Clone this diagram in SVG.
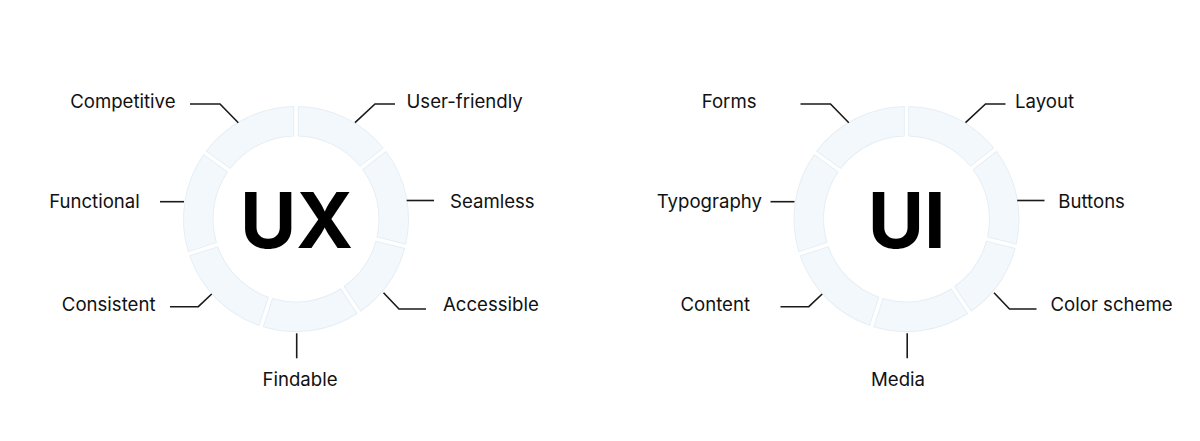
<svg xmlns="http://www.w3.org/2000/svg" width="1200" height="441" viewBox="0 0 1200 441">
<style>
.bg{fill:#ffffff}
.seg{fill:#F3F8FC;stroke:#E6EEF4;stroke-width:1}
.lbl{font-family:Inter,"Noto Sans","Liberation Sans",sans-serif;font-size:18.6px;fill:#111111}
.mid{text-anchor:middle}
.end{text-anchor:end}
.core{font-family:Inter,"Noto Sans","Liberation Sans",sans-serif;font-weight:700;font-size:77px;fill:#000000;text-anchor:middle}
.conn{fill:none;stroke:#1a1a1a;stroke-width:1.6}
</style>
<defs>
<path id="s52" class="seg" d="M2.25,-112.48 A112.5,112.5 0 0 1 87.25,-71.02 L64.00,-52.85 A83,83 0 0 0 2.25,-82.97 Z"/>
<path id="s42" class="seg" d="M2.25,-112.48 A112.5,112.5 0 0 1 73.59,-85.09 L53.85,-63.16 A83,83 0 0 0 2.25,-82.97 Z"/>
<path id="s54" class="seg" d="M2.25,-112.48 A112.5,112.5 0 0 1 89.67,-67.93 L65.80,-50.59 A83,83 0 0 0 2.25,-82.97 Z"/>
</defs>
<rect class="bg" x="0" y="0" width="1200" height="441"/>

<!-- UX -->
<g id="ux-user-friendly"><use href="#s52" transform="translate(296,219) rotate(0)"/><text class="lbl" x="406.5" y="108.3">User-friendly</text></g>
<g id="ux-seamless"><use href="#s52" transform="translate(296,219) rotate(52)"/><text class="lbl" x="450" y="208.3">Seamless</text></g>
<g id="ux-accessible"><use href="#s42" transform="translate(296,219) rotate(104)"/><text class="lbl" x="443" y="310.7">Accessible</text></g>
<g id="ux-findable"><use href="#s52" transform="translate(296,219) rotate(146)"/><text class="lbl mid" x="300" y="385.7">Findable</text></g>
<g id="ux-consistent"><use href="#s54" transform="translate(296,219) rotate(198)"/><text class="lbl end" x="155.5" y="310.7">Consistent</text></g>
<g id="ux-functional"><use href="#s54" transform="translate(296,219) rotate(252)"/><text class="lbl end" x="139.8" y="208.3">Functional</text></g>
<g id="ux-competitive"><use href="#s54" transform="translate(296,219) rotate(306)"/><text class="lbl end" x="175.5" y="108.3">Competitive</text></g>
<g id="ux-core"><text class="core" x="296.5" y="248.3">UX</text></g>

<!-- UI -->
<g id="ui-layout"><use href="#s52" transform="translate(906.5,219) rotate(0)"/><text class="lbl" x="1015" y="108.3">Layout</text></g>
<g id="ui-buttons"><use href="#s52" transform="translate(906.5,219) rotate(52)"/><text class="lbl" x="1058.3" y="208.3">Buttons</text></g>
<g id="ui-color-scheme"><use href="#s42" transform="translate(906.5,219) rotate(104)"/><text class="lbl" x="1050.5" y="310.7">Color scheme</text></g>
<g id="ui-media"><use href="#s52" transform="translate(906.5,219) rotate(146)"/><text class="lbl mid" x="898" y="385.7">Media</text></g>
<g id="ui-content"><use href="#s54" transform="translate(906.5,219) rotate(198)"/><text class="lbl end" x="750" y="310.7">Content</text></g>
<g id="ui-typography"><use href="#s54" transform="translate(906.5,219) rotate(252)"/><text class="lbl end" x="762" y="208.3">Typography</text></g>
<g id="ui-forms"><use href="#s54" transform="translate(906.5,219) rotate(306)"/><text class="lbl end" x="756.5" y="108.3">Forms</text></g>
<g id="ui-core"><text class="core" x="906.7" y="248.3">UI</text></g>

<g id="connectors">
<path class="conn" d="M190,104 H220 L238.3,122.7"/>
<path class="conn" d="M395,104 H375 L355,122.7"/>
<path class="conn" d="M160,201.7 H184"/>
<path class="conn" d="M406.7,200.5 H434"/>
<path class="conn" d="M170,306.7 H198.3 L211.7,294"/>
<path class="conn" d="M383.5,292.7 L399,309 H426"/>
<path class="conn" d="M296.7,333.3 V358.3"/>
<path class="conn" d="M800.5,104 H830.5 L848.8,122.7"/>
<path class="conn" d="M1005.5,104 H985.5 L965.5,122.7"/>
<path class="conn" d="M770.5,201.7 H794.5"/>
<path class="conn" d="M1017.2,200.5 H1044.5"/>
<path class="conn" d="M780.5,306.7 H808.8 L822.2,294"/>
<path class="conn" d="M994,292.7 L1009.5,309 H1036.5"/>
<path class="conn" d="M907.2,333.3 V358.3"/>
</g>
</svg>
